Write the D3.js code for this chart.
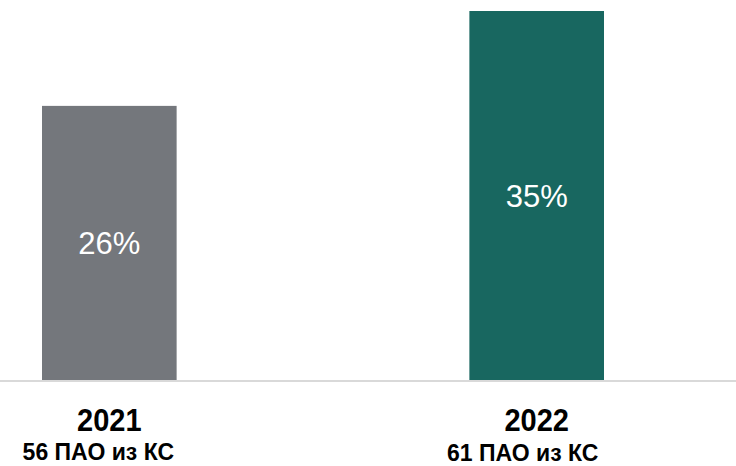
<!DOCTYPE html>
<html>
<head>
<meta charset="utf-8">
<script src="https://cdn.jsdelivr.net/npm/d3@7/dist/d3.min.js"></script>
<style>
  html, body { margin: 0; padding: 0; background: #ffffff; }
  svg { display: block; }
  text { font-family: "Liberation Sans", Arial, sans-serif; }
</style>
</head>
<body>
<svg id="chart" width="736" height="466"></svg>
<script>
// ---- data ----
const categories = ["2021", "2022"];
const values = [26, 35];
const valueLabels = ["26%", "35%"];
const subtitles = ["56 ПАО из КС", "61 ПАО из КС"];
const colors = ["#74777c", "#186760"];

// ---- layout ----
const W = 736, H = 466;
const baseY = 380;
const svg = d3.select("#chart");

const x = d3.scaleBand()
  .domain(categories)
  .range([42, 604])
  .paddingInner(0.685)
  .paddingOuter(0);

const y = d3.scaleLinear()
  .domain([0, 35])
  .range([baseY, 11]);

const data = categories.map((c, i) => ({
  cat: c, value: values[i], label: valueLabels[i], sub: subtitles[i], color: colors[i]
}));

// bars
svg.selectAll("rect.bar")
  .data(data)
  .join("rect")
  .attr("class", "bar")
  .attr("x", d => x(d.cat))
  .attr("width", x.bandwidth())
  .attr("y", d => y(d.value))
  .attr("height", d => y(0) - y(d.value))
  .attr("fill", d => d.color);

// baseline
svg.append("line")
  .attr("x1", 0).attr("x2", W)
  .attr("y1", y(0) + 1).attr("y2", y(0) + 1)
  .attr("stroke", "#d9d9d9")
  .attr("stroke-width", 2);

// value labels
svg.selectAll("text.val")
  .data(data)
  .join("text")
  .attr("class", "val")
  .attr("x", d => x(d.cat) + x.bandwidth() / 2)
  .attr("y", d => (y(d.value) + y(0)) / 2 + 11)
  .attr("text-anchor", "middle")
  .attr("fill", "#ffffff")
  .style("font-size", "31px")
  .text(d => d.label);

// category labels (slightly tall glyphs as in the reference)
svg.selectAll("text.cat")
  .data(data)
  .join("text")
  .attr("class", "cat")
  .attr("transform", d => `translate(${x(d.cat) + x.bandwidth() / 2},431) scale(1,1.08)`)
  .attr("text-anchor", "middle")
  .attr("fill", "#000000")
  .style("font-size", "29px")
  .style("font-weight", "bold")
  .text(d => d.cat);

// subtitles
const subDx = [-11, -14];
const subY = [460, 461];
svg.selectAll("text.sub")
  .data(data)
  .join("text")
  .attr("class", "sub")
  .attr("x", (d, i) => x(d.cat) + x.bandwidth() / 2 + subDx[i])
  .attr("y", (d, i) => subY[i])
  .attr("text-anchor", "middle")
  .attr("fill", "#000000")
  .style("font-size", "23px")
  .style("font-weight", "bold")
  .text(d => d.sub);
</script>
</body>
</html>
